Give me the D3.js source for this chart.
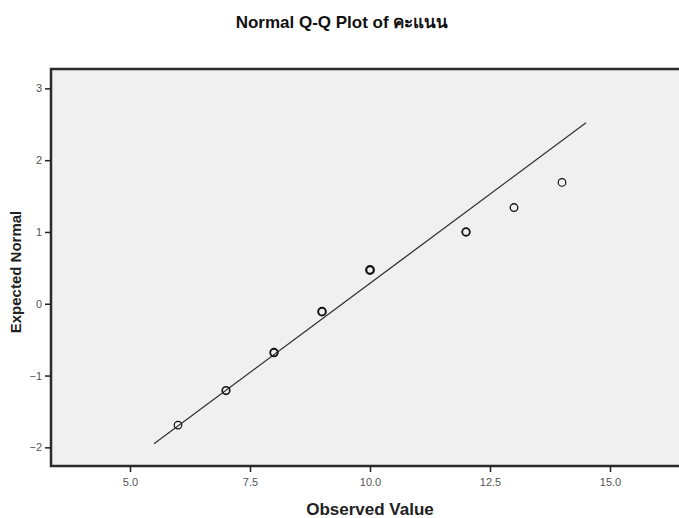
<!DOCTYPE html>
<html><head><meta charset="utf-8">
<script src="https://cdn.jsdelivr.net/npm/d3@7"></script>
<style>body{margin:0;background:#fff}svg{display:block}text{font-family:"Liberation Sans",Arial,sans-serif}</style>
</head><body><svg id="c" width="679" height="518"></svg>
<script>
const title = "Normal Q-Q Plot of คะแนน";
const observed = [6, 7, 8, 9, 10, 12, 13, 14];
const expected = [-1.69, -1.21, -0.68, -0.11, 0.47, 1.00, 1.34, 1.69];
const weights = [1.2, 1.6, 1.8, 2.0, 2.2, 1.8, 1.3, 1.2];
const lineX = [5.5, 14.5];
const lineY = [-1.95, 2.52];
const xTicks = [5.0, 7.5, 10.0, 12.5, 15.0];
const yTicks = [-2, -1, 0, 1, 2, 3];

const svg = d3.select("#c");
const L = 51, R = 700, T = 69, B = 466;
const x = d3.scaleLinear().domain([3.354, 16.875]).range([L, R]);
const y = d3.scaleLinear().domain([-2.26, 3.27]).range([B, T]);

svg.append("rect").attr("x", L).attr("y", T).attr("width", R - L).attr("height", B - T)
  .attr("fill", "#f0f0f0").attr("stroke", "#2a2a2a").attr("stroke-width", 2.5);

const xa = svg.append("g").attr("transform", `translate(0,${B})`)
  .call(d3.axisBottom(x).tickValues(xTicks).tickFormat(d3.format(".1f")).tickSize(6).tickPadding(6));
const ya = svg.append("g").attr("transform", `translate(${L},0)`)
  .call(d3.axisLeft(y).tickValues(yTicks).tickFormat(d3.format("d")).tickSize(6).tickPadding(3));
[xa, ya].forEach(a => {
  a.select(".domain").remove();
  a.selectAll(".tick line").attr("stroke", "#222").attr("stroke-width", 1.5);
  a.selectAll(".tick text").attr("fill", "#555").style("font-size", "11px");
});

svg.append("line")
  .attr("x1", x(lineX[0])).attr("y1", y(lineY[0]))
  .attr("x2", x(lineX[1])).attr("y2", y(lineY[1]))
  .attr("stroke", "#333").attr("stroke-width", 1.3);

svg.append("g").selectAll("circle").data(observed).join("circle")
  .attr("cx", d => x(d)).attr("cy", (d, i) => y(expected[i]))
  .attr("r", 3.8).attr("fill", "none").attr("stroke", "#111")
  .attr("stroke-width", (d, i) => weights[i]);

svg.append("text").attr("x", 342).attr("y", 28).attr("text-anchor", "middle")
  .style("font-size", "17px").style("font-weight", "bold").attr("fill", "#111").text(title);
svg.append("text").attr("x", 370).attr("y", 515).attr("text-anchor", "middle")
  .style("font-size", "17px").style("font-weight", "bold").attr("fill", "#222").text("Observed Value");
svg.append("text").attr("transform", "translate(21,272) rotate(-90)").attr("text-anchor", "middle")
  .style("font-size", "15px").style("font-weight", "bold").attr("fill", "#222").text("Expected Normal");
</script></body></html>
